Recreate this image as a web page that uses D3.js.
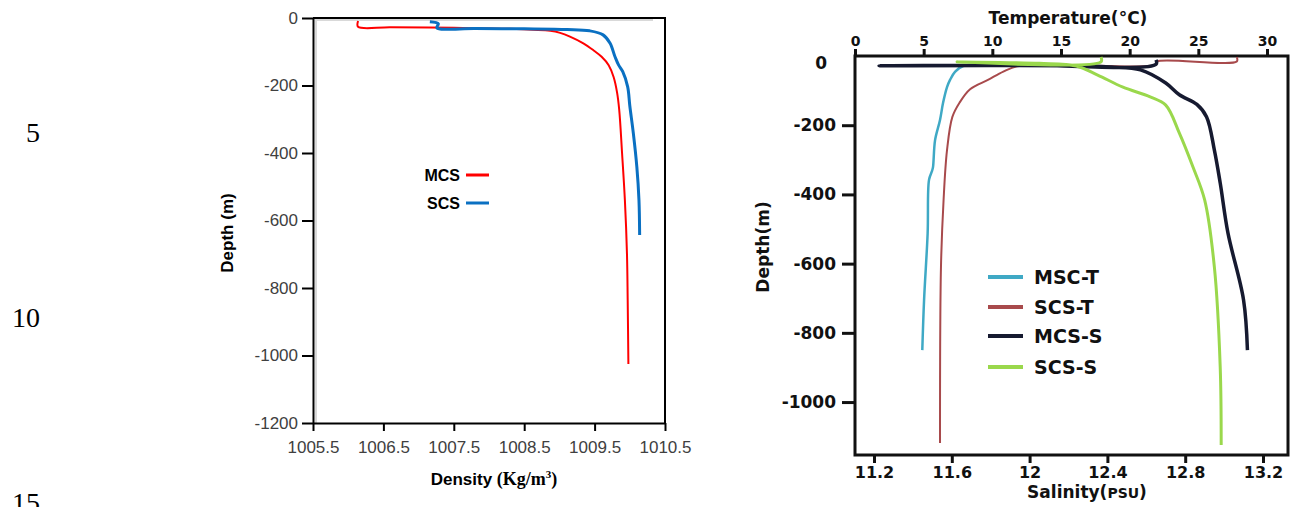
<!DOCTYPE html>
<html lang="en">
  <head>
    <meta charset="UTF-8" />
    <title>Density, temperature and salinity profiles</title>
    <script src="https://d3js.org/d3.v7.min.js"></script>
    <style>
      body { margin: 0; background: #fff; }
    </style>
  </head>
  <body>
    <script>
      // ---- data: left panel (density vs depth) ----
      const densityTicks = [1005.5, 1006.5, 1007.5, 1008.5, 1009.5, 1010.5];
      const densityDepthTicks = [0, -200, -400, -600, -800, -1000, -1200];
      const densityNames = ["MCS", "SCS"];
      const mcsDensity = [
        [1006.14, -9], [1006.14, -26], [1006.6, -27.5], [1007.5, -29], [1008.3, -32],
        [1008.87, -38], [1009.01, -44], [1009.15, -55], [1009.34, -75], [1009.48, -95],
        [1009.6, -115], [1009.7, -140], [1009.77, -175], [1009.82, -222], [1009.85, -273],
        [1009.89, -400], [1009.93, -539], [1009.96, -700], [1009.97, -836], [1009.98, -1025]
      ];
      const scsDensity = [
        [1007.16, -11], [1007.28, -17], [1007.26, -29], [1007.8, -31], [1008.5, -32],
        [1009.11, -34], [1009.43, -38], [1009.62, -50], [1009.72, -75], [1009.79, -115],
        [1009.84, -139], [1009.9, -159], [1009.97, -204], [1010.0, -260], [1010.05, -341],
        [1010.1, -441], [1010.13, -539], [1010.14, -643]
      ];

      // ---- data: right panel (temperature / salinity vs depth) ----
      const tempTicks = [0, 5, 10, 15, 20, 25, 30];
      const salinityTicks = [11.2, 11.6, 12, 12.4, 12.8, 13.2];
      const rightDepthTicks = [0, -200, -400, -600, -800, -1000];
      const profileNames = ["MSC-T", "SCS-T", "MCS-S", "SCS-S"];
      const msctTemp = [
        [10.5, -28], [7.87, -29], [7.28, -46], [6.92, -69], [6.7, -90], [6.41, -136],
        [6.19, -185], [5.83, -243], [5.68, -321], [5.61, -332], [5.39, -358],
        [5.29, -512], [5.03, -705], [4.9, -850]
      ];
      const scstTemp = [
        [27.8, -3], [27.8, -16], [22.0, -16], [21.9, -25], [15, -26], [11.8, -30],
        [10.8, -45], [9.68, -69], [8.38, -96], [7.61, -135], [7.09, -176], [6.7, -272],
        [6.45, -416], [6.26, -610], [6.19, -1118]
      ];
      const mcssSal = [
        [12.65, -11], [12.65, -24], [12.0, -27], [11.226, -28], [12.31, -29], [12.42, -32],
        [12.57, -40], [12.7, -78], [12.77, -112], [12.86, -140], [12.91, -176],
        [12.95, -272], [12.98, -367], [13.02, -512], [13.1, -705], [13.12, -850]
      ];
      const scssSal = [
        [12.367, -3], [12.367, -17], [11.627, -17], [12.05, -21], [12.24, -29],
        [12.35, -55], [12.48, -90], [12.62, -118], [12.7, -142], [12.77, -223],
        [12.84, -321], [12.9, -416], [12.95, -610], [12.98, -899], [12.985, -1124]
      ];

      const lineNumbers = ["5", "10", "15"];

      const svg = d3.select("body").append("svg")
        .attr("width", 1295).attr("height", 507);

      // line numbers down the margin
      svg.selectAll("text.lineno").data(lineNumbers).join("text")
        .attr("class", "lineno")
        .attr("x", 40).attr("y", (d, i) => 142 + i * 185)
        .attr("text-anchor", "end")
        .style("font-family", "'Liberation Serif', 'Times New Roman', serif")
        .style("font-size", "28px")
        .text(d => d);

      // ================= left panel =================
      const xD = d3.scaleLinear().domain([1005.5, 1010.5]).range([313, 665]);
      const yD = d3.scaleLinear().domain([0, -1200]).range([18, 423]);
      const left = svg.append("g");
      const sans = "'Liberation Sans', Arial, sans-serif";

      // faint plot-area border
      left.append("path")
        .attr("d", "M316,423V20H653")
        .attr("fill", "none").attr("stroke", "#d9d9d9").attr("stroke-width", 2);

      const axB = left.append("g").attr("transform", "translate(0,423)")
        .call(d3.axisBottom(xD).tickValues(densityTicks).tickSize(8).tickPadding(10)
          .tickSizeOuter(0).tickFormat(d3.format(".1f")));
      const axL = left.append("g").attr("transform", "translate(313,0)")
        .call(d3.axisLeft(yD).tickValues(densityDepthTicks).tickSize(11).tickPadding(4)
          .tickSizeOuter(0).tickFormat(d => String(d)));
      [axB, axL].forEach(a => {
        a.selectAll("path.domain").attr("stroke", "#000").attr("stroke-width", 2);
        a.selectAll(".tick line").attr("stroke", "#000").attr("stroke-width", 2);
        a.selectAll("text").attr("fill", "#404040")
          .style("font-family", sans).style("font-size", "17px");
      });
      left.append("path")
        .attr("d", "M313,18H665V423")
        .attr("fill", "none").attr("stroke", "#000").attr("stroke-width", 2);

      const lineD = d3.line().x(d => xD(d[0])).y(d => yD(d[1]))
        .curve(d3.curveCatmullRom.alpha(0.5));
      const densityColors = ["#ff0000", "#0a70c2"];
      const densityWidths = [2, 3];
      [mcsDensity, scsDensity].forEach((s, i) => {
        left.append("path").datum(s).attr("d", lineD)
          .attr("fill", "none").attr("stroke", densityColors[i])
          .attr("stroke-width", densityWidths[i]);
      });

      // legend
      const legL = left.append("g");
      densityNames.forEach((n, i) => {
        const y = 175 + i * 28;
        legL.append("text").attr("x", 460).attr("y", y + 5.5)
          .attr("text-anchor", "end")
          .style("font-family", sans).style("font-weight", "bold").style("font-size", "16px")
          .text(n);
        legL.append("line").attr("x1", 466).attr("x2", 489).attr("y1", y).attr("y2", y)
          .attr("stroke", densityColors[i]).attr("stroke-width", 3);
      });

      // axis titles
      left.append("text")
        .attr("transform", "translate(227,233) rotate(-90)")
        .attr("text-anchor", "middle").attr("dy", "0.35em")
        .style("font-family", sans).style("font-weight", "bold").style("font-size", "17px")
        .text("Depth (m)");
      const xt = left.append("text").attr("x", 494).attr("y", 485)
        .attr("text-anchor", "middle").style("font-weight", "bold");
      xt.append("tspan").style("font-family", sans).style("font-size", "17px").text("Density ");
      const serif = "'Liberation Serif', 'Times New Roman', serif";
      xt.append("tspan").style("font-family", serif).style("font-size", "18px").text("(Kg/m");
      xt.append("tspan").style("font-family", serif).style("font-size", "11px")
        .attr("dy", -7).text("3");
      xt.append("tspan").style("font-family", serif).style("font-size", "18px")
        .attr("dy", 7).text(")");

      // ================= right panel =================
      const xT = d3.scaleLinear().domain([0, 30]).range([855, 1267]);
      const xS = d3.scaleLinear().domain([11.2, 13.2]).range([874, 1263]);
      const yR = d3.scaleLinear().domain([0, -1153]).range([56, 455]);
      const right = svg.append("g");
      const bold = "'DejaVu Sans', Verdana, sans-serif";

      const axT = right.append("g").attr("transform", "translate(0,56)")
        .call(d3.axisTop(xT).tickValues(tempTicks).tickSize(7).tickPadding(3));
      const axS = right.append("g").attr("transform", "translate(0,455)")
        .call(d3.axisBottom(xS).tickValues(salinityTicks).tickSize(8).tickPadding(4)
          .tickFormat(d => String(d)));
      const axR = right.append("g").attr("transform", "translate(855,0)")
        .call(d3.axisLeft(yR).tickValues(rightDepthTicks).tickSize(13).tickPadding(6)
          .tickFormat(d => String(d)));
      [axT, axS, axR].forEach(a => {
        a.select("path.domain").remove();
        a.selectAll(".tick line").attr("stroke", "#111").attr("stroke-width", 3);
        a.selectAll("text").attr("fill", "#111")
          .style("font-family", bold).style("font-weight", "bold");
      });
      axT.selectAll("text").style("font-size", "14px");
      axS.selectAll("text").style("font-size", "16px");
      axR.selectAll("text").style("font-size", "17px");
      axR.selectAll(".tick").filter(d => d === 0).each(function () {
        d3.select(this).select("line").remove();
        d3.select(this).select("text").attr("y", 7).attr("x", -28);
      });

      right.append("rect")
        .attr("x", 855).attr("y", 56).attr("width", 433).attr("height", 399)
        .attr("fill", "none").attr("stroke", "#111").attr("stroke-width", 3);

      const lineT = d3.line().x(d => xT(d[0])).y(d => yR(d[1]))
        .curve(d3.curveCatmullRom.alpha(0.5));
      const lineS = d3.line().x(d => xS(d[0])).y(d => yR(d[1]))
        .curve(d3.curveCatmullRom.alpha(0.5));
      const profileColors = ["#3fa9c5", "#a84a4c", "#161a30", "#9ad84c"];
      const profiles = [
        { data: scstTemp, line: lineT, c: 1, w: 2 },
        { data: msctTemp, line: lineT, c: 0, w: 2.5 },
        { data: mcssSal, line: lineS, c: 2, w: 3.5 },
        { data: scssSal, line: lineS, c: 3, w: 3 }
      ];
      profiles.forEach(p => {
        right.append("path").datum(p.data).attr("d", p.line)
          .attr("fill", "none").attr("stroke", profileColors[p.c])
          .attr("stroke-width", p.w).attr("stroke-linejoin", "round");
      });

      // legend
      const rowY = [277, 307, 336, 367];
      profileNames.forEach((n, i) => {
        right.append("line").attr("x1", 988).attr("x2", 1023)
          .attr("y1", rowY[i]).attr("y2", rowY[i])
          .attr("stroke", profileColors[i]).attr("stroke-width", 4);
        right.append("text").attr("x", 1034).attr("y", rowY[i]).attr("dy", "0.36em")
          .attr("fill", "#111")
          .style("font-family", bold).style("font-weight", "bold").style("font-size", "19px")
          .text(n);
      });

      // titles
      right.append("text").attr("x", 1068).attr("y", 24).attr("text-anchor", "middle")
        .attr("fill", "#111")
        .style("font-family", bold).style("font-weight", "bold").style("font-size", "17px")
        .text("Temperature(°C)");
      const st = right.append("text").attr("x", 1087).attr("y", 498)
        .attr("text-anchor", "middle").attr("fill", "#111")
        .style("font-family", bold).style("font-weight", "bold").style("font-size", "17px");
      st.append("tspan").text("Salinity(");
      st.append("tspan").style("font-size", "14px").text("PSU");
      st.append("tspan").text(")");
      right.append("text")
        .attr("transform", "translate(763,247) rotate(-90)")
        .attr("text-anchor", "middle").attr("dy", "0.35em").attr("fill", "#111")
        .style("font-family", bold).style("font-weight", "bold").style("font-size", "17px")
        .text("Depth(m)");
    </script>
  </body>
</html>
